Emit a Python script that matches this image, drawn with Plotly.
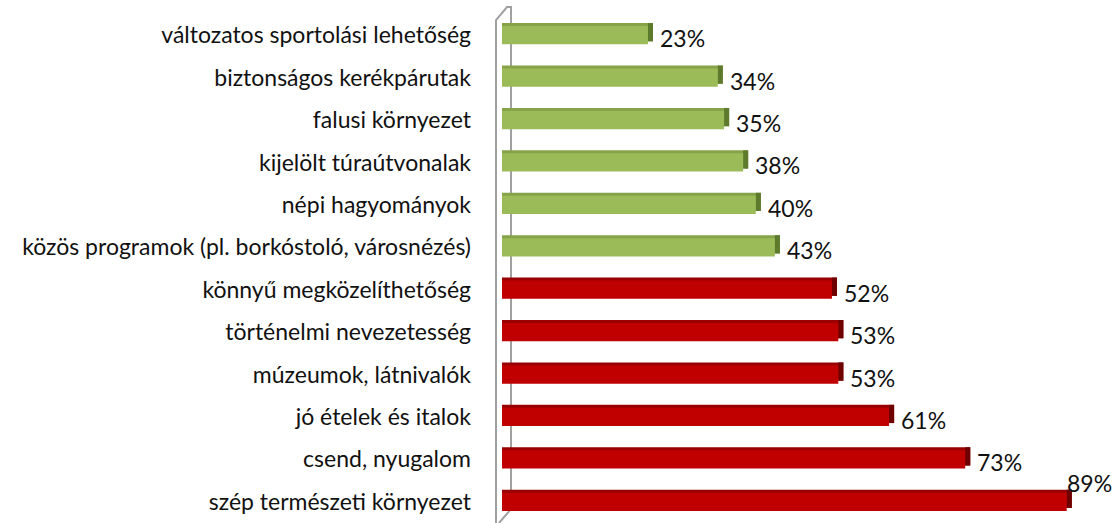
import plotly.graph_objects as go

categories = [
    "változatos sportolási lehetőség",
    "biztonságos kerékpárutak",
    "falusi környezet",
    "kijelölt túraútvonalak",
    "népi hagyományok",
    "közös programok (pl. borkóstoló, városnézés)",
    "könnyű megközelíthetőség",
    "történelmi nevezetesség",
    "múzeumok, látnivalók",
    "jó ételek és italok",
    "csend, nyugalom",
    "szép természeti környezet",
]
values = [23, 34, 35, 38, 40, 43, 52, 53, 53, 61, 73, 89]
groups = ["green"] * 6 + ["red"] * 6

front = {"green": "#9BBB59", "red": "#C00000"}
top = {"green": "#86A34A", "red": "#9A0000"}
side = {"green": "#5E7A2C", "red": "#6E0000"}

W, H = 1119, 523
L, R, T, B = 502, 0, 14, 0
XMAX = (W - L - R) / 6.345
BW = 0.43
DEPTH_X = 0.8
DEPTH_Y = 0.07
FONT = "Lato"
FS = 23

fig = go.Figure()
# top face (behind, shifted up)
fig.add_trace(go.Bar(
    y=categories, x=[v + DEPTH_X for v in values], orientation="h",
    width=BW, offset=-BW / 2 - DEPTH_Y,
    marker=dict(color=[top[g] for g in groups], line=dict(width=0)),
    hoverinfo="skip", showlegend=False,
))
# side face
fig.add_trace(go.Bar(
    y=categories, x=[DEPTH_X] * len(values), base=values, orientation="h",
    width=BW, offset=-BW / 2 - DEPTH_Y,
    marker=dict(color=[side[g] for g in groups], line=dict(width=0)),
    hoverinfo="skip", showlegend=False,
))
# front face
fig.add_trace(go.Bar(
    y=categories, x=values, orientation="h",
    width=BW, offset=-BW / 2,
    marker=dict(color=[front[g] for g in groups], line=dict(width=0)),
    showlegend=False,
))

annotations = []
for c, v in zip(categories, values):
    if v == max(values):
        annotations.append(dict(x=v, y=c, xref="x", yref="y", text=f"{v}%",
                                showarrow=False, xanchor="left", yanchor="middle",
                                xshift=-2, yshift=19,
                                font=dict(family=FONT, size=FS, color="#111")))
    else:
        annotations.append(dict(x=v, y=c, xref="x", yref="y", text=f"{v}%",
                                showarrow=False, xanchor="left", yanchor="middle",
                                xshift=10, yshift=-3,
                                font=dict(family=FONT, size=FS, color="#111")))

# 3D wall outline in pixel coordinates converted to paper
ph = H - T - B
pw = W - L - R
def px(x):
    return (x - L) / pw
def py(y):
    return (H - B - y) / ph

wall = [(496, 530), (496, 20), (507, 7), (511, 7), (511, 509), (499, 523)]
path = "M " + " L ".join(f"{px(x):.5f},{py(y):.5f}" for x, y in wall)

n = len(categories)
fig.update_layout(
    width=W, height=H,
    margin=dict(l=L, r=R, t=T, b=B, autoexpand=False),
    paper_bgcolor="white", plot_bgcolor="white",
    barmode="overlay",
    xaxis=dict(range=[0, XMAX], visible=False, showgrid=False, zeroline=False),
    yaxis=dict(range=[n - 0.5, -0.5], showgrid=False, zeroline=False, showline=False,
               ticks="", ticklabelstandoff=30,
               tickfont=dict(family=FONT, size=FS, color="#111")),
    font=dict(family=FONT),
    annotations=annotations,
    shapes=[dict(type="path", path=path, xref="paper", yref="paper",
                 line=dict(color="#A0A0A0", width=2), layer="below")],
)

fig.write_html("out.html", config={"displayModeBar": False},
               post_script="document.body.style.margin='0';document.body.style.overflow='hidden';")
